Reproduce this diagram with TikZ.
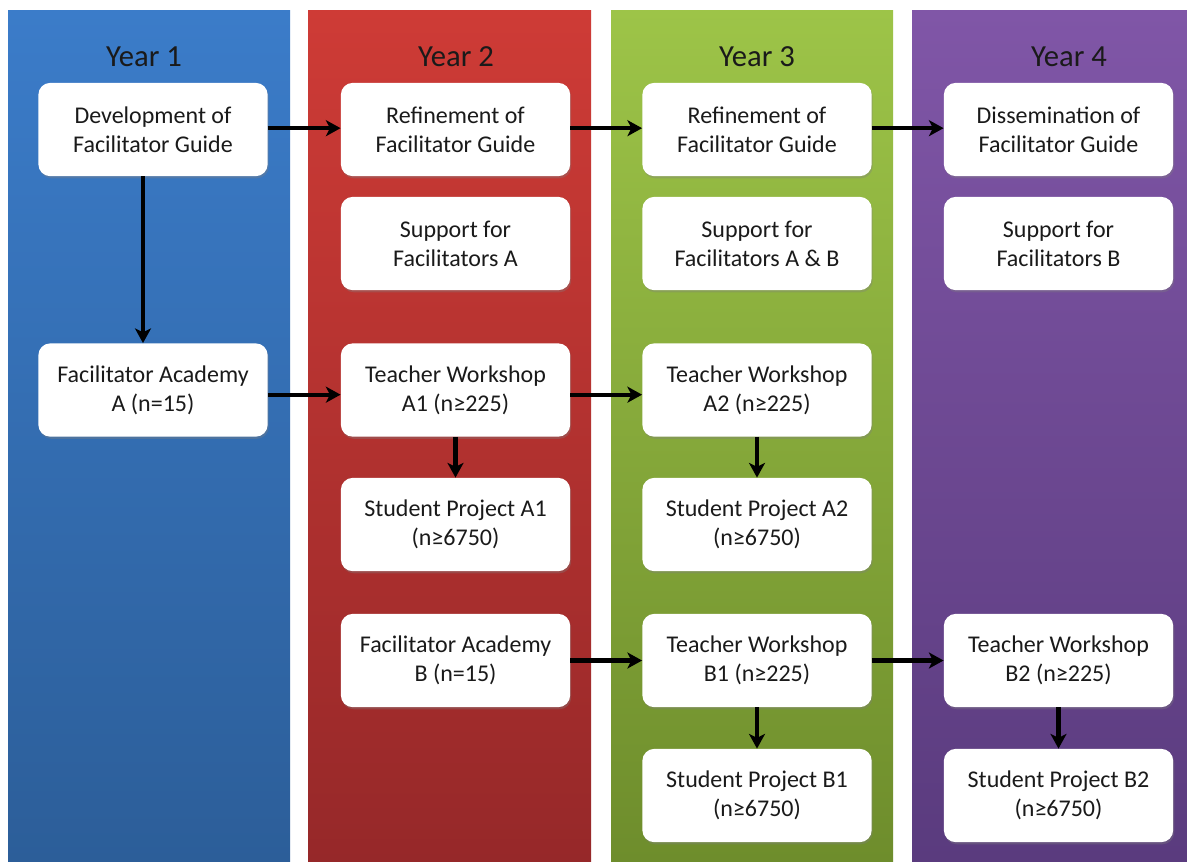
\documentclass[tikz,border=0pt]{standalone}
\usepackage{fontspec}
\setmainfont{Carlito}
\usetikzlibrary{shadows,arrows.meta}
\definecolor{blueT}{HTML}{3B7CC9}
\definecolor{blueB}{HTML}{2C5E99}
\definecolor{redT}{HTML}{CE3B36}
\definecolor{redB}{HTML}{962829}
\definecolor{greenT}{HTML}{9DC448}
\definecolor{greenB}{HTML}{6E8D2C}
\definecolor{purpT}{HTML}{8056A7}
\definecolor{purpB}{HTML}{5A3B7E}
\definecolor{txt}{HTML}{1A1A1A}
\begin{document}
\begin{tikzpicture}[x=0.75pt,y=-0.75pt,
  box/.style={fill=white, rounded corners=9pt, inner sep=0pt,
    minimum width=172pt, minimum height=70pt, align=center,
    text=txt, font=\fontsize{18}{21.8}\selectfont,
    drop shadow={shadow xshift=0.8pt, shadow yshift=-1.6pt, opacity=0.35}},
  year/.style={text=txt, font=\fontsize{23}{26}\selectfont, inner sep=0pt},
  arr/.style={line width=3.1pt, black, -{Stealth[length=11pt,width=12pt,inset=3pt]}},
  col/.style={draw=none}]
\useasboundingbox (0,0) rectangle (1187,861);
\fill[white] (0,0) rectangle (1187,861);
% columns
\shade[top color=blueT, bottom color=blueB] (8,10) rectangle (290,861);
\shade[top color=redT, bottom color=redB] (308,10) rectangle (591,861);
\shade[top color=greenT, bottom color=greenB] (611,10) rectangle (893,861);
\shade[top color=purpT, bottom color=purpB] (912,10) rectangle (1187,861);
% year labels
\node[year] (y1) at (144,57) {Year 1};
\node[year] (y2) at (456,57) {Year 2};
\node[year] (y3) at (757,57) {Year 3};
\node[year] (y4) at (1069,57) {Year 4};
% boxes
\node[box] (dev) at (153,129.5) {Development of\\Facilitator Guide};
\node[box] (faa) at (153,390) {Facilitator Academy\\A (n=15)};
\node[box] (ref2) at (455.5,129.5) {Refinement of\\Facilitator Guide};
\node[box] (sup2) at (455.5,243.5) {Support for\\Facilitators A};
\node[box] (twa1) at (455.5,390) {Teacher Workshop\\A1 (n≥225)};
\node[box] (spa1) at (455.5,524.5) {Student Project A1\\(n≥6750)};
\node[box] (fab) at (455.5,660.5) {Facilitator Academy\\B (n=15)};
\node[box] (ref3) at (757,129.5) {Refinement of\\Facilitator Guide};
\node[box] (sup3) at (757,243.5) {Support for\\Facilitators A \& B};
\node[box] (twa2) at (757,390) {Teacher Workshop\\A2 (n≥225)};
\node[box] (spa2) at (757,524.5) {Student Project A2\\(n≥6750)};
\node[box] (twb1) at (757,660.5) {Teacher Workshop\\B1 (n≥225)};
\node[box] (spb1) at (757,795.5) {Student Project B1\\(n≥6750)};
\node[box] (dis4) at (1058.5,129.5) {Dissemination of\\Facilitator Guide};
\node[box] (sup4) at (1058.5,243.5) {Support for\\Facilitators B};
\node[box] (twb2) at (1058.5,660.5) {Teacher Workshop\\B2 (n≥225)};
\node[box] (spb2) at (1058.5,795.5) {Student Project B2\\(n≥6750)};
% arrows
\draw[arr] ([yshift=1pt]dev.east) -- ([yshift=1pt]ref2.west);
\draw[arr] ([yshift=1pt]ref2.east) -- ([yshift=1pt]ref3.west);
\draw[arr] ([yshift=1pt]ref3.east) -- ([yshift=1pt]dis4.west);
\draw[arr] ([xshift=-7.5pt]dev.south) -- ([xshift=-7.5pt]faa.north);
\draw[arr] ([yshift=-3.5pt]faa.east) -- ([yshift=-3.5pt]twa1.west);
\draw[arr] ([yshift=-3.5pt]twa1.east) -- ([yshift=-3.5pt]twa2.west);
\draw[arr] (twa1.south) -- (spa1.north);
\draw[arr] (twa2.south) -- (spa2.north);
\draw[arr] (fab.east) -- (twb1.west);
\draw[arr] (twb1.east) -- (twb2.west);
\draw[arr] (twb1.south) -- (spb1.north);
\draw[arr] (twb2.south) -- (spb2.north);
\end{tikzpicture}
\end{document}
